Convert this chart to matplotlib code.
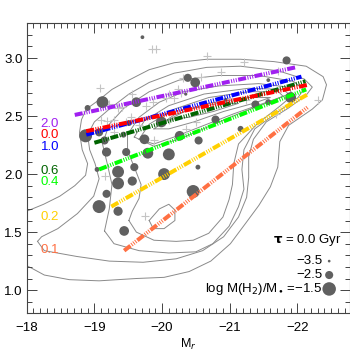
import numpy as np
import matplotlib
matplotlib.use('Agg')
import matplotlib.pyplot as plt
from matplotlib.ticker import MultipleLocator

# density contours of the parent sample (Mr, colour)
c1_mr = [-17.9, -18.00, -18.25, -18.49, -18.71, -18.87, -18.90, -18.82, -18.78, -18.81, -18.88,
         -19.07, -19.26, -19.51, -19.81, -20.18, -20.66, -21.16, -21.65, -22.13, -22.38, -22.43,
         -22.37, -22.22, -21.87, -21.74, -21.71, -21.60, -21.43, -21.24, -21.01, -20.72, -20.40,
         -20.03, -19.62, -19.07, -18.63, -18.26, -18.07, -18.00, -17.9]
c1_col = [1.70, 1.68, 1.74, 1.81, 1.90, 1.99, 2.09, 2.21, 2.36, 2.47, 2.56, 2.64, 2.73, 2.81,
          2.90, 2.96, 2.99, 2.99, 2.97, 2.93, 2.84, 2.77, 2.64, 2.56, 2.42, 2.28, 2.06, 1.89,
          1.73, 1.58, 1.40, 1.25, 1.16, 1.11, 1.10, 1.08, 1.09, 1.13, 1.19, 1.21, 1.23]

c2_mr = [-18.16, -18.26, -18.74, -19.22, -19.72, -20.21, -20.60, -20.91, -21.13, -21.25, -21.28,
         -21.28, -21.35, -21.54, -21.87, -22.13, -22.22, -22.10, -21.72, -21.16, -20.66, -20.18,
         -19.81, -19.51, -19.22, -19.00, -18.90, -18.93, -19.01, -19.07, -18.99, -18.75, -18.46,
         -18.22]
c2_col = [1.42, 1.34, 1.29, 1.25, 1.24, 1.27, 1.34, 1.46, 1.63, 1.80, 1.97, 2.15, 2.30, 2.45,
          2.57, 2.68, 2.75, 2.82, 2.89, 2.93, 2.92, 2.87, 2.79, 2.69, 2.56, 2.45, 2.34, 2.21,
          2.09, 1.96, 1.81, 1.66, 1.53, 1.46]

c3_mr = [-19.15, -19.29, -19.66, -20.10, -20.50, -20.75, -20.99, -21.13, -21.21, -21.18, -21.21,
         -21.37, -21.72, -22.01, -22.09, -21.94, -21.43, -20.84, -20.25, -19.81, -19.44, -19.22,
         -19.12, -19.19, -19.26, -19.22]
c3_col = [1.51, 1.40, 1.34, 1.32, 1.33, 1.40, 1.55, 1.72, 1.87, 2.04, 2.21, 2.39, 2.54, 2.66,
          2.73, 2.80, 2.85, 2.85, 2.81, 2.71, 2.57, 2.43, 2.26, 2.09, 1.91, 1.70]

c4_mr = [-19.51, -19.62, -19.88, -20.21, -20.46, -20.69, -20.90, -20.99, -21.04, -21.06, -21.13,
         -21.40, -21.75, -21.93, -21.87, -21.43, -20.84, -20.32, -19.96, -19.66, -19.49, -19.49,
         -19.59, -19.69, -19.66, -19.56]
c4_col = [1.60, 1.50, 1.43, 1.42, 1.43, 1.49, 1.63, 1.78, 1.91, 2.09, 2.26, 2.43, 2.59, 2.68,
          2.75, 2.78, 2.76, 2.71, 2.62, 2.49, 2.34, 2.20, 2.06, 1.91, 1.79, 1.68]

c5_mr = [-19.81, -19.96, -20.10, -20.19, -20.19, -20.03, -19.87]
c5_col = [1.60, 1.70, 1.74, 1.69, 1.60, 1.53, 1.53]

r0_mr = [-19.59, -19.74, -20.10, -20.62, -21.28, -21.79, -21.87, -21.57, -21.13, -20.69, -20.25, -19.88]
r0_col = [2.32, 2.46, 2.59, 2.69, 2.74, 2.73, 2.69, 2.62, 2.52, 2.41, 2.30, 2.24]
r1_mr = [-19.66, -19.81, -20.18, -20.69, -21.28, -21.72, -21.79, -21.50, -21.06, -20.62, -20.18, -19.88]
r1_col = [2.30, 2.43, 2.56, 2.66, 2.71, 2.71, 2.67, 2.61, 2.52, 2.42, 2.32, 2.26]
r2_mr = [-19.88, -20.18, -20.69, -21.28, -21.60, -21.35, -20.91, -20.47, -20.10]
r2_col = [2.39, 2.51, 2.61, 2.66, 2.66, 2.61, 2.54, 2.45, 2.39]
r3_mr = [-20.10, -20.40, -20.84, -21.13, -20.76, -20.40]
r3_col = [2.47, 2.56, 2.61, 2.61, 2.54, 2.49]

# galaxies with CO detections: Mr, colour, log M(H2)/M*
gal_mr = [-19.71, -19.12, -18.90, -19.62, -18.87, -19.07, -19.15, -19.43, -19.51, -19.18,
          -19.47, -19.79, -20.10, -19.74, -19.99, -20.26, -20.54, -20.79, -20.38, -20.49,
          -20.35, -21.16, -21.38, -21.57, -21.90, -21.84, -21.57, -20.94, -20.53, -20.03,
          -20.46, -19.04, -19.35, -19.59, -19.56, -19.35, -19.18, -19.07, -19.35, -19.44]
gal_col = [3.18, 2.62, 2.57, 2.62, 2.33, 2.36, 2.29, 2.34, 2.44, 2.19,
           2.19, 2.18, 2.17, 2.30, 2.45, 2.33, 2.29, 2.47, 2.83, 2.79,
           2.69, 2.39, 2.60, 2.62, 2.66, 2.98, 2.81, 2.64, 2.06, 2.00,
           1.85, 2.04, 2.02, 2.06, 1.94, 1.92, 1.83, 1.72, 1.68, 1.51]
gal_h2 = [-3.3, -1.8, -2.9, -2.2, -1.6, -2.5, -2.5, -2.9, -2.9, -2.3,
          -2.5, -2.0, -1.8, -2.2, -2.0, -2.2, -2.5, -2.5, -2.5, -2.2,
          -3.4, -2.9, -2.5, -2.9, -2.0, -2.5, -3.3, -3.3, -3.1, -1.8,
          -1.6, -3.1, -1.8, -2.5, -2.3, -1.8, -2.5, -1.6, -2.3, -2.2]

# non-detections
nd_mr = [-19.85, -19.91, -20.66, -21.21, -19.09, -19.21, -19.10, -19.18, -19.29, -19.29,
         -19.47, -19.54, -19.35, -19.41, -19.56, -19.76, -19.87, -20.06, -20.10, -20.18,
         -20.24, -20.31, -20.28, -20.57, -20.87, -20.99, -21.24, -20.60, -20.50, -20.10,
         -20.35, -19.66, -19.88, -21.69, -22.31, -21.72, -19.16, -19.75]
nd_col = [3.08, 3.08, 3.02, 2.97, 2.74, 2.60, 2.47, 2.46, 2.47, 2.36,
          2.45, 2.49, 2.57, 2.58, 2.69, 2.59, 2.62, 2.66, 2.69, 2.66,
          2.73, 2.83, 2.70, 2.84, 2.88, 2.66, 2.64, 2.59, 2.45, 2.47,
          2.39, 2.42, 2.29, 2.52, 2.64, 2.89, 1.98, 1.64]

# model tracks, one per starburst mass fraction
track_lab = ['2.0', '0.0', '1.0', '0.6', '0.4', '0.2', '0.1']
track_col = ['#A020F0', '#FF0000', '#0000FF', '#006400', '#00FF00', '#FFD000', '#FF7043']
track_mr0 = [-18.71, -18.88, -18.88, -19.00, -19.07, -19.25, -19.44]
track_c0 = [2.51, 2.37, 2.34, 2.27, 2.04, 1.72, 1.34]
track_mr1 = [-21.97, -22.16, -22.06, -22.12, -22.13, -22.16, -22.16]
track_c1 = [2.92, 2.77, 2.84, 2.80, 2.73, 2.69, 2.58]

legend_h2 = [-3.5, -2.5, -1.5]


def dot_size(v):
    r = 2.7 * (np.asarray(v) + 4.0)  # radius in px
    return (2 * r * 0.72) ** 2


fig = plt.figure(figsize=(3.5, 3.6), dpi=100)
ax = fig.add_axes([0.0763, 0.1297, 0.9223, 0.8056])

gray = '#8a8a8a'
ax.plot(c1_mr, c1_col, color=gray, lw=0.7, zorder=1)
for xs, ys in [(c2_mr, c2_col), (c3_mr, c3_col), (c4_mr, c4_col), (c5_mr, c5_col),
               (r0_mr, r0_col), (r1_mr, r1_col), (r2_mr, r2_col), (r3_mr, r3_col)]:
    ax.plot(xs + xs[:1], ys + ys[:1], color=gray, lw=0.7, zorder=1)

ax.scatter(nd_mr, nd_col, marker='+', s=30, color='#c4c4c4', lw=0.8, zorder=2)
ax.scatter(gal_mr, gal_col, s=dot_size(gal_h2), color='#606060', lw=0, zorder=3)

# draw from bottom track up so the upper ones sit on top
pattern = (0, (2.0, 0.35, 0.25, 0.35, 0.25, 0.35, 0.25, 0.35))
for i in range(len(track_lab) - 1, -1, -1):
    ax.plot([track_mr0[i], track_mr1[i]], [track_c0[i], track_c1[i]], color=track_col[i],
            lw=2.9, linestyle=pattern, dash_capstyle='butt', zorder=4)

label_y = [0.653, 0.615, 0.574, 0.491, 0.453, 0.332, 0.217]
for lab, c, ly in zip(track_lab, track_col, label_y):
    ax.text(0.072, ly, lab, transform=ax.transAxes, color=c, fontsize=9.5,
            ha='center', va='center', family='Liberation Sans')

# size key
ax.text(0.977, 0.253, r'$\mathbf{\tau}$ = 0.0 Gyr', transform=ax.transAxes,
        ha='right', va='center', fontsize=9.5, family='Liberation Sans')
key_text = ['\u22123.5', '\u22122.5', 'log M(H$_2$)/M$_{\\bullet}$ =\u22121.5']
key_y = [0.180, 0.132, 0.084]
for t, ky in zip(key_text, key_y):
    ax.text(0.915, ky, t, transform=ax.transAxes, ha='right', va='center',
            fontsize=9.5, family='Liberation Sans')
ax.scatter([0.937] * 3, key_y, s=dot_size(legend_h2), color='#606060', lw=0,
           transform=ax.transAxes, zorder=5, clip_on=False)

ax.set_xlim(-18, -22.77)
ax.set_ylim(0.8, 3.3)
ax.xaxis.set_major_locator(MultipleLocator(1))
ax.xaxis.set_minor_locator(MultipleLocator(0.1))
ax.yaxis.set_major_locator(MultipleLocator(0.5))
ax.yaxis.set_minor_locator(MultipleLocator(0.1))
ax.tick_params(which='both', direction='in', top=True, right=True, color='#444444', width=0.7)
ax.tick_params(which='major', length=7.2, labelsize=9.5)
ax.tick_params(which='minor', length=3.6)
ax.tick_params(axis='x', pad=6)
ax.tick_params(axis='y', pad=3)
for lbl in ax.get_xticklabels() + ax.get_yticklabels():
    lbl.set_family('Liberation Sans')
for sp in ax.spines.values():
    sp.set_color('#444444')
    sp.set_linewidth(0.8)
ax.set_xlabel('M$_r$', fontsize=9, family='Liberation Sans', labelpad=2)

fig.savefig('out.png', dpi=100)
